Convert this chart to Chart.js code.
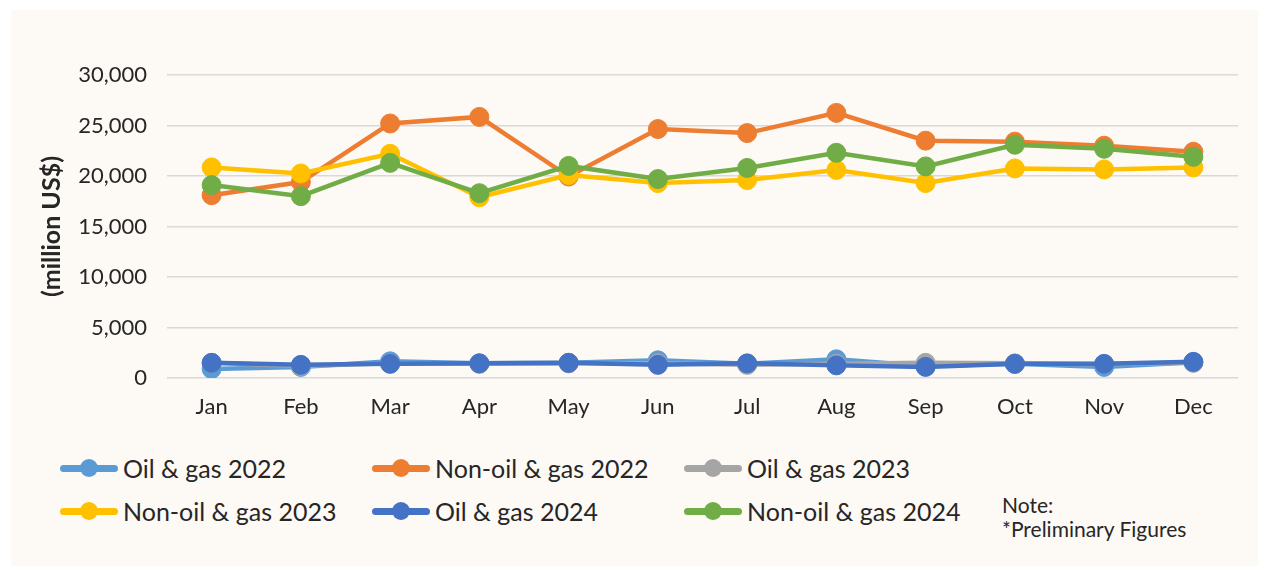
<!DOCTYPE html>
<html>
<head>
<meta charset="utf-8">
<script src="https://cdn.jsdelivr.net/npm/chart.js@4.4.1/dist/chart.umd.min.js"></script>
<style>
  html, body { margin: 0; padding: 0; background: #ffffff; }
  body { width: 1269px; height: 572px; position: relative; overflow: hidden; font-family: Lato, "Open Sans", sans-serif; color: #262626; }
  #panel { position: absolute; left: 11px; top: 10px; width: 1247px; height: 556px; background: #fdf9f5; }
  #wrap { position: absolute; left: 0; top: 0; width: 1269px; height: 440px; }
  #legend { position: absolute; left: 60px; top: 451px; display: grid; grid-template-columns: 312px 312px 312px; row-gap: 10px; }
  .item { display: flex; align-items: center; height: 33px; font-size: 25px; white-space: nowrap; }
  .mark { position: relative; width: 58px; height: 18px; margin-right: 5px; }
  .mark .ln { position: absolute; left: 0; right: 0; top: 6px; height: 7px; border-radius: 3.5px; }
  .mark .dot { position: absolute; left: 20px; top: 0; width: 18px; height: 18px; border-radius: 50%; }
  #note { position: absolute; left: 1002px; top: 493px; font-size: 21px; line-height: 24px; }
</style>
</head>
<body>
<div id="panel"></div>
<div id="wrap"><canvas id="tradeChart"></canvas></div>
<div id="legend"></div>
<div id="note">Note:<br>*Preliminary Figures</div>
<script>
var months = ['Jan', 'Feb', 'Mar', 'Apr', 'May', 'Jun', 'Jul', 'Aug', 'Sep', 'Oct', 'Nov', 'Dec'];

var oilGas2022 = [900, 1100, 1650, 1450, 1500, 1750, 1400, 1850, 1200, 1400, 1100, 1550];
var nonOilGas2022 = [18100, 19400, 25200, 25850, 19950, 24650, 24250, 26250, 23500, 23400, 23000, 22400];
var oilGas2023 = [1500, 1200, 1450, 1400, 1450, 1450, 1300, 1400, 1500, 1450, 1350, 1500];
var nonOilGas2023 = [20850, 20250, 22200, 17900, 20100, 19300, 19600, 20600, 19300, 20750, 20650, 20850];
var oilGas2024 = [1500, 1300, 1400, 1450, 1500, 1300, 1450, 1250, 1100, 1400, 1400, 1600];
var nonOilGas2024 = [19100, 18000, 21300, 18300, 21000, 19700, 20800, 22300, 20950, 23100, 22700, 21900];

var seriesNames = ['Oil & gas 2022', 'Non-oil & gas 2022', 'Oil & gas 2023', 'Non-oil & gas 2023', 'Oil & gas 2024', 'Non-oil & gas 2024'];
var seriesData = [oilGas2022, nonOilGas2022, oilGas2023, nonOilGas2023, oilGas2024, nonOilGas2024];
var seriesColors = ['#5b9bd5', '#ed7d31', '#a5a5a5', '#ffc000', '#4472c4', '#70ad47'];

var datasets = seriesNames.map(function (name, i) {
    return {
        label: name,
        data: seriesData[i],
        borderColor: seriesColors[i],
        backgroundColor: seriesColors[i],
        pointBackgroundColor: seriesColors[i],
        pointBorderColor: seriesColors[i],
        borderWidth: 4.5,
        pointRadius: 9.5,
        pointBorderWidth: 1,
        tension: 0,
        fill: false,
        // later series sit on top, like the original
        order: seriesNames.length - i
    };
});

var ctx = document.getElementById('tradeChart').getContext('2d');
var tradeChart = new Chart(ctx, {
    type: 'line',
    data: {
        labels: months,
        datasets: datasets
    },
    options: {
        responsive: true,
        maintainAspectRatio: false,
        animation: false,
        layout: {
            padding: { left: 37, right: 31, top: 75, bottom: 0 }
        },
        plugins: {
            legend: { display: false },
            title: { display: false },
            tooltip: { enabled: false }
        },
        scales: {
            x: {
                offset: true,
                grid: { display: false, drawTicks: false },
                border: { display: false },
                ticks: {
                    padding: 16,
                    color: '#262626',
                    font: { family: 'Lato', size: 22 }
                },
                afterFit: function (scale) { scale.height = 62; }
            },
            y: {
                min: 0,
                max: 30000,
                grid: { color: '#d9d9d9', lineWidth: 1.5, drawTicks: false },
                border: { display: false },
                ticks: {
                    stepSize: 5000,
                    padding: 20,
                    color: '#262626',
                    font: { family: 'Lato', size: 22 },
                    callback: function (v) { return v.toLocaleString('en-US'); }
                },
                title: {
                    display: true,
                    text: '(million US$)',
                    color: '#262626',
                    padding: 0,
                    font: { family: 'Lato', size: 25, weight: 'bold' }
                },
                afterFit: function (scale) { scale.width = 130; }
            }
        }
    }
});

var legendBox = document.getElementById('legend');
seriesNames.forEach(function (name, i) {
    var item = document.createElement('div');
    item.className = 'item';
    item.innerHTML = '<span class="mark"><span class="ln" style="background:' + seriesColors[i] + '"></span>' +
        '<span class="dot" style="background:' + seriesColors[i] + '"></span></span>' + name;
    legendBox.appendChild(item);
});
</script>
</body>
</html>
